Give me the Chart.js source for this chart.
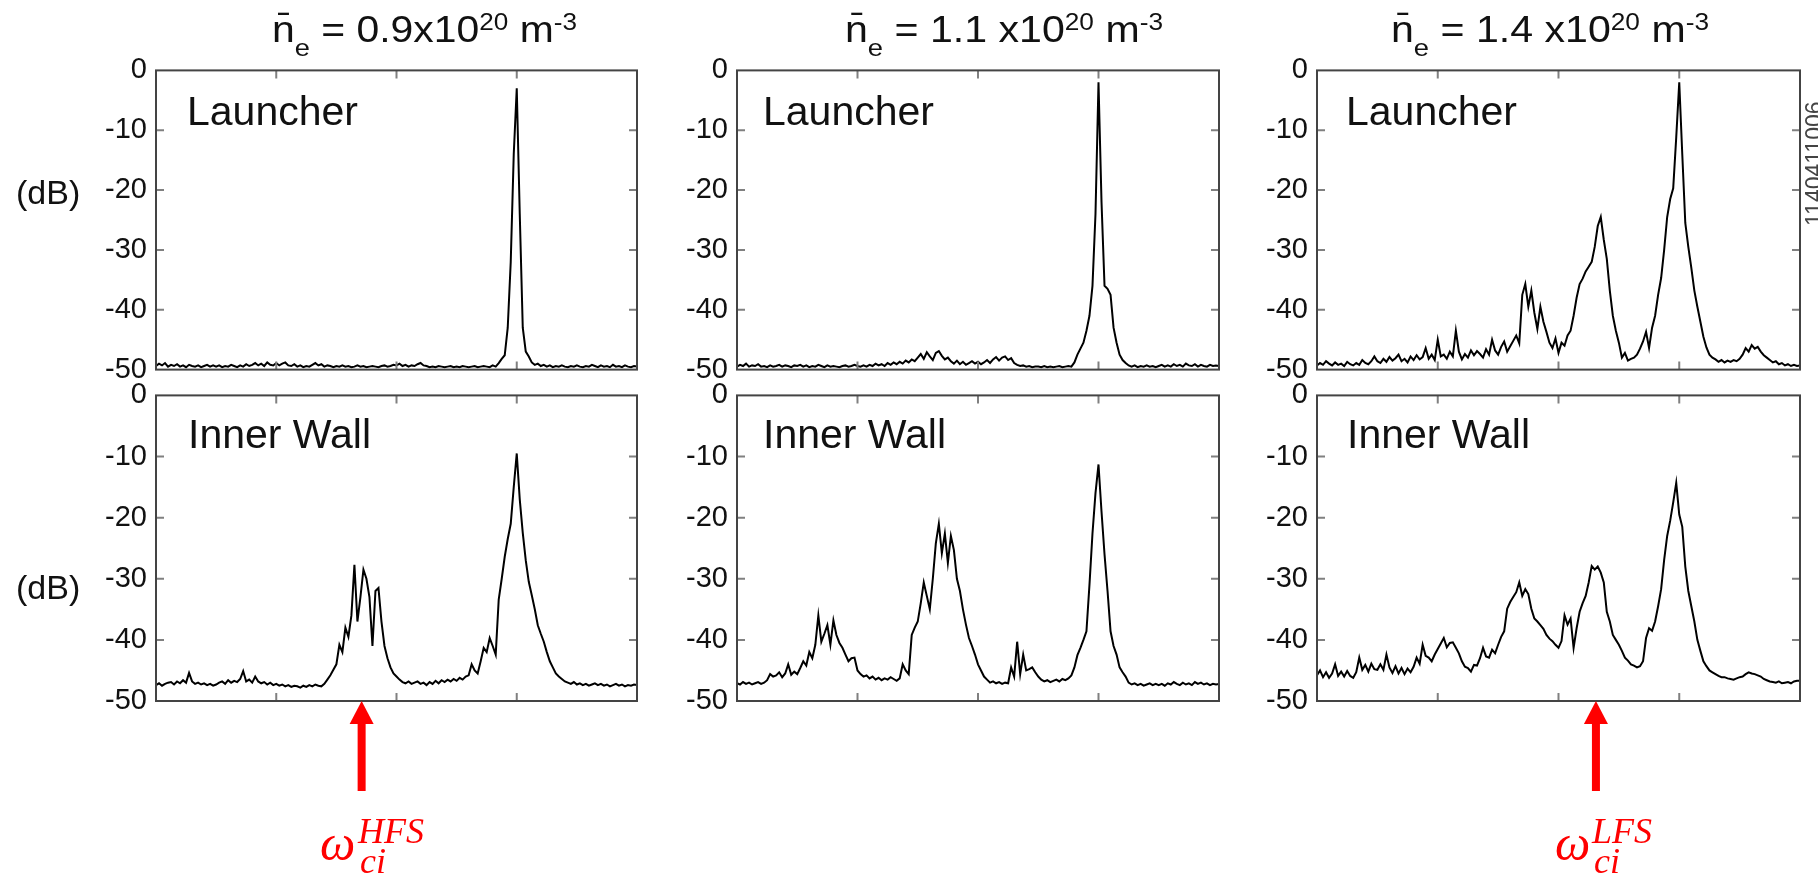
<!DOCTYPE html>
<html>
<head>
<meta charset="utf-8">
<script src="https://cdn.jsdelivr.net/npm/chart.js@4.4.0/dist/chart.umd.min.js"></script>
<style>
  html, body { margin: 0; padding: 0; background: #fff; }
  body { width: 1818px; height: 874px; position: relative; overflow: hidden; }
  canvas { position: absolute; }
  svg { position: absolute; left: 0; top: 0; }
</style>
</head>
<body>
<canvas id="c0"></canvas>
<canvas id="c1"></canvas>
<canvas id="c2"></canvas>
<canvas id="c3"></canvas>
<canvas id="c4"></canvas>
<canvas id="c5"></canvas>

<svg width="1818" height="874" font-family="'Liberation Sans', Arial, Helvetica, sans-serif" fill="#111">
  <!-- column titles -->
  <text x="272" y="42" font-size="36" textLength="305" lengthAdjust="spacingAndGlyphs">n&#772;<tspan dy="14" font-size="24">e</tspan><tspan dy="-14"> = 0.9x10</tspan><tspan dy="-12" font-size="23">20</tspan><tspan dy="12"> m</tspan><tspan dy="-12" font-size="23">-3</tspan></text>
  <text x="845" y="42" font-size="36" textLength="318" lengthAdjust="spacingAndGlyphs">n&#772;<tspan dy="14" font-size="24">e</tspan><tspan dy="-14"> = 1.1 x10</tspan><tspan dy="-12" font-size="23">20</tspan><tspan dy="12"> m</tspan><tspan dy="-12" font-size="23">-3</tspan></text>
  <text x="1391" y="42" font-size="36" textLength="318" lengthAdjust="spacingAndGlyphs">n&#772;<tspan dy="14" font-size="24">e</tspan><tspan dy="-14"> = 1.4 x10</tspan><tspan dy="-12" font-size="23">20</tspan><tspan dy="12"> m</tspan><tspan dy="-12" font-size="23">-3</tspan></text>

  <!-- y unit -->
  <text x="16" y="204" font-size="34">(dB)</text>
  <text x="16" y="599" font-size="34">(dB)</text>

  <!-- panel labels -->
  <text x="187" y="125" font-size="41">Launcher</text>
  <text x="763" y="125" font-size="41">Launcher</text>
  <text x="1346" y="125" font-size="41">Launcher</text>
  <text x="188" y="448" font-size="41">Inner Wall</text>
  <text x="763" y="448" font-size="41">Inner Wall</text>
  <text x="1347" y="448" font-size="41">Inner Wall</text>

  <!-- shot number -->
  <text transform="translate(1822,226) rotate(-90)" font-size="23" fill="#444">1140411006</text>

  <!-- cyclotron frequency labels -->
  <g fill="#ff0000" font-family="'Liberation Serif', 'DejaVu Serif', serif" font-style="italic">
    <text x="320" y="860" font-size="50">ω</text>
    <text x="358" y="843" font-size="36">HFS</text>
    <text x="360" y="873" font-size="36">ci</text>
    <text x="1555" y="860" font-size="50">ω</text>
    <text x="1592" y="843" font-size="36">LFS</text>
    <text x="1594" y="873" font-size="36">ci</text>
  </g>
</svg>

<script>
// frequency grid (arb. units, 0..4), one sample every 0.025
const freqStep = 0.025;
const freq = [];
for (let i = 0; i <= 160; i++) freq.push(+(i * freqStep).toFixed(3));

const xTicks = [1, 2, 3];
const yTicks = [0, -10, -20, -30, -40, -50];

// Launcher, ne = 0.9e20
const launcher09 = [
  -49.4,-49.0,-49.3,-48.9,-49.5,-49.2,-49.4,-49.1,-49.5,-49.3,-49.6,-49.2,-49.4,-49.5,-49.3,-49.6,-49.4,-49.2,-49.5,-49.3,
  -49.5,-49.3,-49.6,-49.4,-49.5,-49.2,-49.4,-49.6,-49.3,-49.5,-49.1,-49.4,-49.2,-48.9,-49.3,-49.0,-49.4,-48.8,-49.2,-49.3,
  -48.9,-49.3,-49.0,-48.8,-49.3,-49.4,-49.1,-49.5,-49.3,-49.6,-49.4,-49.5,-49.2,-48.9,-49.3,-49.1,-49.5,-49.3,-49.4,-49.6,
  -49.4,-49.5,-49.3,-49.5,-49.4,-49.6,-49.5,-49.3,-49.5,-49.4,-49.6,-49.5,-49.4,-49.5,-49.6,-49.4,-49.3,-49.5,-49.4,-49.2,
  -49.3,-49.0,-49.4,-49.2,-49.5,-49.3,-49.4,-49.1,-48.9,-49.3,-49.4,-49.6,-49.5,-49.6,-49.4,-49.5,-49.6,-49.5,-49.4,-49.6,
  -49.5,-49.6,-49.4,-49.5,-49.6,-49.5,-49.4,-49.6,-49.5,-49.4,-49.5,-49.6,-49.3,-49.5,-48.9,-48.2,-47.6,-43.0,-32.0,-14.0,
  -3.0,-24.0,-43.0,-47.0,-47.8,-48.8,-49.2,-49.0,-49.4,-49.2,-49.5,-49.3,-49.6,-49.4,-49.5,-49.3,-49.5,-49.6,-49.4,-49.5,
  -49.3,-49.5,-49.6,-49.4,-49.5,-49.2,-49.4,-49.6,-49.3,-49.5,-49.4,-49.6,-49.2,-49.5,-49.4,-49.6,-49.3,-49.5,-49.6,-49.4,
  -49.5
];

// Launcher, ne = 1.1e20
const launcher11 = [
  -49.5,-49.2,-49.4,-49.0,-49.5,-49.3,-49.4,-49.1,-49.5,-49.4,-49.6,-49.3,-49.5,-49.4,-49.2,-49.5,-49.3,-49.4,-49.6,-49.3,
  -49.4,-49.2,-49.5,-49.3,-49.6,-49.4,-49.5,-49.2,-49.4,-49.6,-49.3,-49.5,-49.4,-49.5,-49.6,-49.4,-49.3,-49.5,-49.4,-49.2,
  -49.4,-49.5,-49.3,-49.5,-49.2,-49.4,-49.0,-49.3,-49.1,-49.4,-48.9,-49.2,-48.8,-49.1,-48.7,-49.0,-48.5,-48.8,-48.3,-48.6,
  -48.0,-47.4,-48.2,-47.1,-47.8,-48.4,-47.2,-46.9,-47.7,-48.3,-48.0,-48.6,-49.0,-48.5,-49.1,-48.7,-49.2,-48.9,-48.6,-49.0,
  -48.7,-49.1,-48.8,-48.4,-48.9,-48.3,-47.9,-48.5,-48.0,-47.8,-48.4,-48.1,-48.9,-49.2,-49.4,-49.3,-49.5,-49.4,-49.6,-49.5,
  -49.5,-49.6,-49.4,-49.6,-49.5,-49.6,-49.5,-49.4,-49.6,-49.5,-49.4,-49.5,-48.8,-47.5,-46.5,-45.5,-43.5,-41.0,-36.0,-24.0,
  -2.0,-22.0,-36.0,-36.5,-37.5,-43.0,-45.5,-47.5,-48.4,-48.9,-49.3,-49.5,-49.3,-49.6,-49.4,-49.5,-49.3,-49.5,-49.4,-49.6,
  -49.4,-49.2,-49.5,-49.3,-49.5,-49.1,-49.4,-49.2,-49.5,-49.0,-49.3,-49.4,-49.1,-49.5,-49.2,-49.4,-49.5,-49.2,-49.4,-49.3,
  -49.4
];

// Launcher, ne = 1.4e20
const launcher14 = [
  -49.3,-48.9,-49.2,-48.6,-49.0,-49.3,-48.8,-49.2,-49.0,-49.4,-48.7,-49.1,-49.3,-48.9,-49.2,-48.4,-48.9,-49.1,-48.6,-47.8,
  -48.6,-48.9,-48.2,-48.7,-47.9,-48.5,-48.1,-47.5,-48.6,-48.2,-48.8,-47.8,-48.4,-47.6,-48.3,-47.9,-46.4,-48.2,-47.5,-48.4,
  -45.0,-47.8,-47.5,-48.2,-47.0,-47.8,-43.5,-47.0,-48.3,-47.4,-48.0,-46.8,-47.6,-46.9,-47.4,-48.0,-46.6,-47.5,-45.0,-46.8,
  -47.5,-46.2,-45.3,-47.0,-46.1,-45.2,-44.3,-45.6,-37.5,-35.7,-39.5,-36.8,-40.5,-43.2,-39.5,-42.0,-43.7,-45.5,-46.4,-44.8,
  -47.2,-45.5,-46.0,-44.3,-43.5,-41.0,-38.0,-35.7,-34.8,-33.6,-32.8,-32.0,-29.5,-26.0,-24.5,-28.3,-31.5,-36.8,-41.0,-43.5,
  -45.5,-48.0,-47.2,-48.5,-48.2,-48.0,-47.5,-46.5,-45.3,-43.7,-46.4,-43.0,-41.0,-37.5,-34.7,-30.0,-24.5,-21.5,-19.7,-11.2,
  -2.0,-14.0,-25.5,-29.5,-33.0,-36.8,-39.5,-42.0,-44.5,-46.3,-47.5,-48.0,-48.3,-48.7,-48.4,-48.8,-48.5,-48.7,-48.4,-48.6,
  -48.2,-47.5,-46.4,-47.0,-45.9,-46.5,-46.2,-47.0,-47.6,-48.0,-48.4,-48.8,-48.6,-49.1,-48.9,-49.3,-49.1,-49.4,-49.2,-49.4,
  -49.3
];

// Inner wall, ne = 0.9e20
const wall09 = [
  -47.4,-47.1,-47.5,-47.2,-47.0,-46.9,-47.3,-46.8,-47.1,-46.6,-47.0,-45.4,-46.8,-47.2,-47.0,-47.3,-47.1,-47.4,-47.2,-47.5,
  -47.3,-47.0,-46.8,-47.2,-46.6,-47.0,-46.7,-46.9,-46.4,-45.1,-46.8,-46.5,-47.0,-46.0,-46.8,-47.1,-46.9,-47.3,-47.0,-47.4,
  -47.2,-47.5,-47.3,-47.6,-47.4,-47.7,-47.5,-47.6,-47.8,-47.5,-47.7,-47.4,-47.6,-47.3,-47.5,-47.6,-47.2,-46.5,-45.8,-44.9,
  -44.0,-40.8,-42.0,-38.0,-39.5,-36.0,-27.7,-37.0,-33.0,-28.5,-30.0,-33.0,-41.0,-32.0,-31.5,-37.0,-41.0,-43.0,-44.5,-45.5,
  -46.0,-46.5,-46.9,-47.1,-46.8,-47.2,-47.0,-46.8,-47.2,-47.0,-47.4,-46.9,-47.2,-46.7,-47.1,-46.6,-46.9,-46.5,-46.8,-46.4,
  -46.7,-46.2,-46.5,-46.0,-45.8,-44.0,-45.0,-45.5,-43.5,-41.3,-42.0,-39.7,-41.0,-42.4,-33.4,-30.0,-26.4,-23.5,-21.0,-15.0,
  -9.5,-17.0,-22.5,-27.0,-30.5,-32.7,-35.0,-37.6,-39.0,-40.3,-42.0,-43.5,-44.5,-45.5,-46.0,-46.4,-46.8,-47.0,-47.2,-46.9,
  -47.3,-47.1,-47.4,-47.2,-47.5,-47.3,-47.1,-47.4,-47.2,-47.5,-47.3,-47.6,-47.4,-47.2,-47.5,-47.3,-47.6,-47.4,-47.5,-47.3,
  -47.4
];

// Inner wall, ne = 1.1e20
const wall11 = [
  -47.1,-47.3,-46.9,-47.2,-47.0,-47.3,-47.1,-46.9,-47.2,-47.0,-46.6,-45.6,-46.0,-45.8,-45.3,-46.1,-45.5,-44.0,-45.7,-45.2,
  -45.6,-44.6,-43.5,-44.2,-42.0,-43.0,-40.8,-36.0,-40.3,-39.0,-37.6,-40.8,-36.8,-39.2,-40.5,-41.3,-42.4,-43.5,-43.0,-42.9,
  -45.0,-45.6,-46.0,-45.8,-46.3,-46.0,-46.5,-46.2,-46.6,-46.3,-46.5,-46.1,-46.4,-46.7,-46.3,-44.0,-45.0,-45.6,-39.2,-38.0,
  -37.0,-34.0,-30.6,-32.8,-35.0,-30.0,-24.2,-21.0,-25.8,-22.6,-27.4,-23.0,-25.3,-30.0,-32.0,-35.0,-37.5,-39.7,-41.0,-42.4,
  -44.0,-45.0,-46.0,-46.5,-47.0,-46.8,-47.1,-46.9,-47.2,-47.0,-47.1,-44.5,-46.0,-40.3,-45.6,-42.4,-45.0,-44.8,-44.5,-45.3,
  -46.0,-46.5,-46.8,-46.6,-46.9,-46.7,-46.5,-46.8,-46.4,-46.6,-46.3,-45.8,-44.5,-42.5,-41.3,-40.0,-38.6,-31.0,-22.6,-16.0,
  -11.3,-19.0,-26.0,-32.0,-38.6,-41.0,-42.4,-44.5,-45.3,-46.0,-47.0,-47.3,-47.1,-47.4,-47.2,-47.5,-47.3,-47.1,-47.4,-47.2,
  -47.4,-47.2,-47.5,-47.1,-47.3,-46.9,-47.2,-47.4,-47.0,-47.3,-47.1,-47.4,-46.9,-47.2,-47.0,-47.3,-47.1,-47.4,-47.2,-47.3,
  -47.2
];

// Inner wall, ne = 1.4e20
const wall14 = [
  -45.8,-45.0,-46.1,-45.3,-46.2,-45.5,-44.0,-45.9,-45.2,-46.0,-45.1,-45.9,-46.2,-45.3,-42.9,-44.9,-44.1,-45.2,-43.9,-44.8,
  -44.9,-44.0,-44.9,-42.4,-44.5,-45.4,-44.3,-45.5,-44.6,-45.6,-44.7,-45.3,-44.4,-42.9,-43.9,-40.8,-42.6,-42.9,-43.5,-42.4,
  -41.5,-40.6,-39.7,-41.2,-40.5,-40.4,-41.3,-42.2,-43.5,-44.4,-44.6,-45.2,-44.1,-44.2,-43.0,-41.3,-42.7,-42.9,-41.6,-42.2,
  -40.8,-39.5,-38.6,-34.9,-33.8,-33.0,-32.2,-30.6,-32.8,-31.7,-32.5,-34.9,-36.5,-37.0,-37.6,-38.2,-39.2,-39.8,-40.2,-40.8,
  -41.3,-40.2,-36.0,-37.5,-36.5,-41.3,-38.1,-35.4,-34.0,-32.8,-30.6,-27.9,-28.5,-28.0,-29.0,-30.6,-35.4,-37.0,-39.2,-40.0,
  -40.8,-41.8,-42.9,-43.4,-44.0,-44.2,-44.5,-44.3,-43.5,-39.7,-38.1,-38.5,-37.0,-34.5,-31.7,-26.9,-23.0,-20.5,-17.5,-14.3,
  -19.5,-21.5,-28.0,-32.0,-34.5,-37.0,-40.0,-41.8,-43.5,-44.3,-45.0,-45.3,-45.6,-45.9,-46.1,-46.1,-46.3,-46.4,-46.5,-46.3,
  -46.1,-46.0,-45.6,-45.3,-45.5,-45.6,-45.8,-46.0,-46.4,-46.6,-46.8,-46.9,-47.0,-46.8,-47.1,-47.0,-46.9,-47.1,-46.8,-46.7,
  -46.7
];

// ion cyclotron resonance markers (same freq units), per column
const arrowAt = [1.71, null, 2.31];

// layout of the 2x3 grid (plot box edges in page pixels)
const colLeft = [156, 737, 1317];
const colRight = [637, 1219, 1800];
const rowTop = [64, 389];
const rowBottom = [376, 701];
const padL = 110, padR = 12, padT = 20;
const padB = [20, 874 - 701];

const panels = [
  { id: "c0", row: 0, col: 0, values: launcher09 },
  { id: "c1", row: 0, col: 1, values: launcher11 },
  { id: "c2", row: 0, col: 2, values: launcher14 },
  { id: "c3", row: 1, col: 0, values: wall09 },
  { id: "c4", row: 1, col: 1, values: wall11 },
  { id: "c5", row: 1, col: 2, values: wall14 },
];

// box, inward ticks on all four sides, and the red arrow under the axis
const framePlugin = {
  id: "frame",
  afterDatasetsDraw(chart, args, opts) {
    const { ctx, chartArea: a } = chart;
    const x = chart.scales.x, y = chart.scales.y;
    ctx.save();
    ctx.strokeStyle = "#808080";
    ctx.lineWidth = 2;
    ctx.beginPath();
    xTicks.forEach(v => {
      const px = x.getPixelForValue(v);
      ctx.moveTo(px, a.top); ctx.lineTo(px, a.top + 8);
      ctx.moveTo(px, a.bottom); ctx.lineTo(px, a.bottom - 8);
    });
    yTicks.slice(1, -1).forEach(v => {
      const py = y.getPixelForValue(v);
      ctx.moveTo(a.left, py); ctx.lineTo(a.left + 8, py);
      ctx.moveTo(a.right, py); ctx.lineTo(a.right - 8, py);
    });
    ctx.stroke();
    ctx.strokeStyle = "#444";
    ctx.lineWidth = 2;
    ctx.strokeRect(a.left, a.top, a.right - a.left, a.bottom - a.top);

    if (opts.arrow != null) {
      const ax = x.getPixelForValue(opts.arrow);
      const tip = a.bottom;
      ctx.fillStyle = "#ff0000";
      ctx.beginPath();
      ctx.moveTo(ax, tip);
      ctx.lineTo(ax - 12, tip + 23);
      ctx.lineTo(ax + 12, tip + 23);
      ctx.closePath();
      ctx.fill();
      ctx.fillRect(ax - 4, tip + 22, 8, 68);
    }
    ctx.restore();
  }
};

panels.forEach(p => {
  const cv = document.getElementById(p.id);
  const w = padL + (colRight[p.col] - colLeft[p.col]) + padR;
  const h = padT + (rowBottom[p.row] - rowTop[p.row]) + padB[p.row];
  cv.width = w;
  cv.height = h;
  cv.style.width = w + "px";
  cv.style.height = h + "px";
  cv.style.left = (colLeft[p.col] - padL) + "px";
  cv.style.top = (rowTop[p.row] - padT) + "px";

  new Chart(cv, {
    type: "line",
    data: {
      datasets: [{
        data: freq.map((f, i) => ({ x: f, y: p.values[i] })),
        borderColor: "#000",
        borderWidth: 2,
        pointRadius: 0,
        tension: 0,
        fill: false,
      }],
    },
    options: {
      responsive: false,
      animation: false,
      devicePixelRatio: 1,
      layout: { padding: { top: padT, right: padR, bottom: padB[p.row], left: 0 } },
      plugins: {
        legend: { display: false },
        tooltip: { enabled: false },
        frame: { arrow: p.row === 1 ? arrowAt[p.col] : null },
      },
      scales: {
        x: { type: "linear", min: 0, max: 4, display: false },
        y: {
          min: -50,
          max: 0,
          afterFit: s => { s.width = padL; },
          afterBuildTicks: s => { s.ticks = yTicks.map(v => ({ value: v })); },
          ticks: {
            padding: 9,
            color: "#111",
            font: { family: "'Liberation Sans', Arial, sans-serif", size: 29 },
          },
          grid: { display: false, drawTicks: false },
          border: { display: false },
        },
      },
    },
    plugins: [framePlugin],
  });
});
</script>
</body>
</html>
